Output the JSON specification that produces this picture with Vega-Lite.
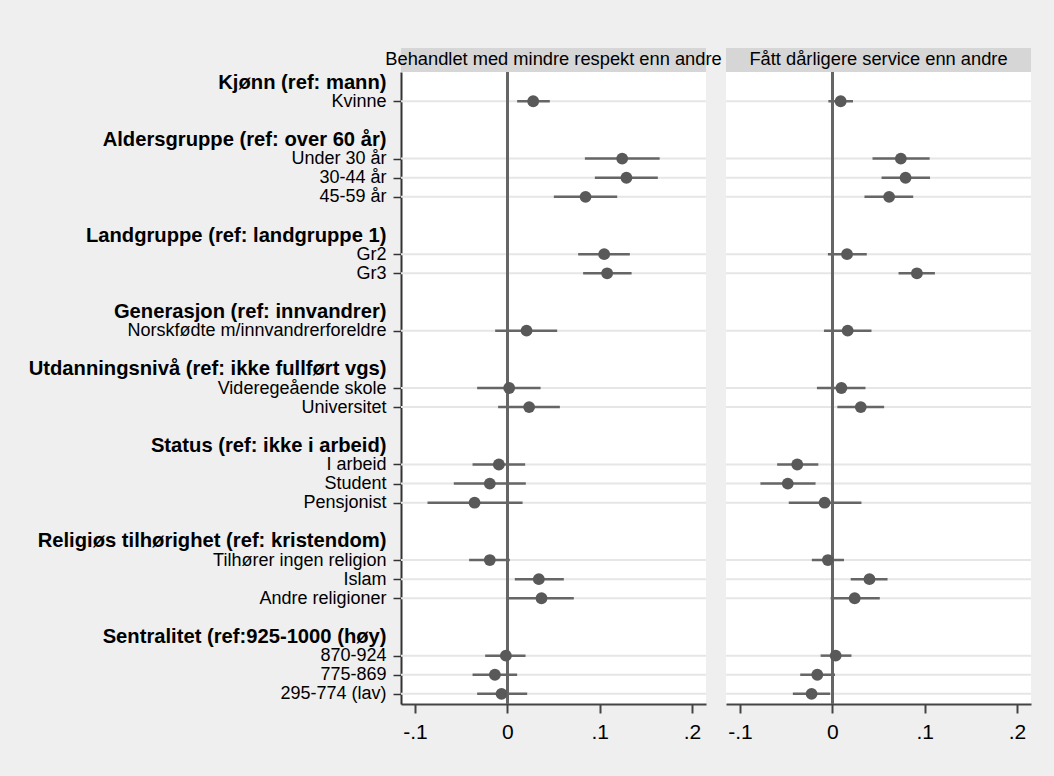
{
  "$schema": "https://vega.github.io/schema/vega-lite/v6.json",
  "background": "#efefef",
  "padding": {"left": 28, "top": 48, "right": 22, "bottom": 34},
  "spacing": 3,
  "config": {
    "font": "Liberation Sans",
    "view": {"stroke": null}
  },
  "datasets": {
    "coef": [
      {"panel": "Behandlet med mindre respekt enn andre", "label": "Kvinne", "b": 0.028, "lo": 0.0106, "hi": 0.046},
      {"panel": "Behandlet med mindre respekt enn andre", "label": "Under 30 år", "b": 0.1244, "lo": 0.084, "hi": 0.165},
      {"panel": "Behandlet med mindre respekt enn andre", "label": "30-44 år", "b": 0.129, "lo": 0.0948, "hi": 0.163},
      {"panel": "Behandlet med mindre respekt enn andre", "label": "45-59 år", "b": 0.0847, "lo": 0.0504, "hi": 0.119},
      {"panel": "Behandlet med mindre respekt enn andre", "label": "Gr2", "b": 0.1049, "lo": 0.0767, "hi": 0.1327},
      {"panel": "Behandlet med mindre respekt enn andre", "label": "Gr3", "b": 0.1081, "lo": 0.0821, "hi": 0.1346},
      {"panel": "Behandlet med mindre respekt enn andre", "label": "Norskfødte m/innvandrerforeldre", "b": 0.0208, "lo": -0.0132, "hi": 0.054},
      {"panel": "Behandlet med mindre respekt enn andre", "label": "Videregeående skole", "b": 0.002, "lo": -0.0327, "hi": 0.036},
      {"panel": "Behandlet med mindre respekt enn andre", "label": "Universitet", "b": 0.0236, "lo": -0.01, "hi": 0.0569},
      {"panel": "Behandlet med mindre respekt enn andre", "label": "I arbeid", "b": -0.0092, "lo": -0.0377, "hi": 0.0193},
      {"panel": "Behandlet med mindre respekt enn andre", "label": "Student", "b": -0.019, "lo": -0.058, "hi": 0.02},
      {"panel": "Behandlet med mindre respekt enn andre", "label": "Pensjonist", "b": -0.0355, "lo": -0.0865, "hi": 0.0165},
      {"panel": "Behandlet med mindre respekt enn andre", "label": "Tilhører ingen religion", "b": -0.019, "lo": -0.0414, "hi": 0.0027},
      {"panel": "Behandlet med mindre respekt enn andre", "label": "Islam", "b": 0.0341, "lo": 0.0081, "hi": 0.0612},
      {"panel": "Behandlet med mindre respekt enn andre", "label": "Andre religioner", "b": 0.037, "lo": 0.001, "hi": 0.072},
      {"panel": "Behandlet med mindre respekt enn andre", "label": "870-924", "b": -0.0016, "lo": -0.024, "hi": 0.0197},
      {"panel": "Behandlet med mindre respekt enn andre", "label": "775-869", "b": -0.0135, "lo": -0.0377, "hi": 0.0106},
      {"panel": "Behandlet med mindre respekt enn andre", "label": "295-774 (lav)", "b": -0.0063, "lo": -0.0327, "hi": 0.0215},
      {"panel": "Fått dårligere service enn andre", "label": "Kvinne", "b": 0.009, "lo": -0.0043, "hi": 0.0224},
      {"panel": "Fått dårligere service enn andre", "label": "Under 30 år", "b": 0.0742, "lo": 0.0435, "hi": 0.1054},
      {"panel": "Fått dårligere service enn andre", "label": "30-44 år", "b": 0.0793, "lo": 0.0533, "hi": 0.1058},
      {"panel": "Fått dårligere service enn andre", "label": "45-59 år", "b": 0.0615, "lo": 0.0348, "hi": 0.0876},
      {"panel": "Fått dårligere service enn andre", "label": "Gr2", "b": 0.0159, "lo": -0.0048, "hi": 0.0373},
      {"panel": "Fått dårligere service enn andre", "label": "Gr3", "b": 0.0916, "lo": 0.0717, "hi": 0.1111},
      {"panel": "Fått dårligere service enn andre", "label": "Norskfødte m/innvandrerforeldre", "b": 0.0166, "lo": -0.0091, "hi": 0.0424},
      {"panel": "Fått dårligere service enn andre", "label": "Videregeående skole", "b": 0.0098, "lo": -0.0167, "hi": 0.0359},
      {"panel": "Fått dårligere service enn andre", "label": "Universitet", "b": 0.0308, "lo": 0.0054, "hi": 0.0561},
      {"panel": "Fått dårligere service enn andre", "label": "I arbeid", "b": -0.038, "lo": -0.0598, "hi": -0.0152},
      {"panel": "Fått dårligere service enn andre", "label": "Student", "b": -0.0483, "lo": -0.0779, "hi": -0.0182},
      {"panel": "Fått dårligere service enn andre", "label": "Pensjonist", "b": -0.0084, "lo": -0.0472, "hi": 0.0315},
      {"panel": "Fått dårligere service enn andre", "label": "Tilhører ingen religion", "b": -0.0048, "lo": -0.0222, "hi": 0.0126},
      {"panel": "Fått dårligere service enn andre", "label": "Islam", "b": 0.0402, "lo": 0.0199, "hi": 0.0598},
      {"panel": "Fått dårligere service enn andre", "label": "Andre religioner", "b": 0.0242, "lo": -0.0018, "hi": 0.0514},
      {"panel": "Fått dårligere service enn andre", "label": "870-924", "b": 0.0036, "lo": -0.0127, "hi": 0.0207},
      {"panel": "Fått dårligere service enn andre", "label": "775-869", "b": -0.0163, "lo": -0.0348, "hi": 0.0029},
      {"panel": "Fått dårligere service enn andre", "label": "295-774 (lav)", "b": -0.0225, "lo": -0.0428, "hi": -0.0023}
    ]
  },
  "hconcat": [
    {
      "vconcat": [
        {
          "width": 305,
          "height": 24,
          "view": {"fill": "#d6d6d6", "stroke": null},
          "data": {"values": [{"t": "Behandlet med mindre respekt enn andre"}]},
          "mark": {"type": "text", "fontSize": 18.3, "color": "#000000", "baseline": "middle", "align": "center"},
          "encoding": {"text": {"field": "t"}}
        },
        {
          "width": 305,
          "height": 632,
          "view": {"fill": "#ffffff", "stroke": null},
          "data": {"name": "coef"},
          "transform": [{"filter": "datum.panel === 'Behandlet med mindre respekt enn andre'"}],
          "encoding": {
            "y": {
              "field": "label",
              "type": "nominal",
              "scale": {
                "type": "point",
                "padding": 0.53,
                "domain": ["Kjønn (ref: mann)", "Kvinne", "_b1", "Aldersgruppe (ref: over 60 år)", "Under 30 år", "30-44 år", "45-59 år", "_b2", "Landgruppe (ref: landgruppe 1)", "Gr2", "Gr3", "_b3", "Generasjon (ref: innvandrer)", "Norskfødte m/innvandrerforeldre", "_b4", "Utdanningsnivå (ref: ikke fullført vgs)", "Videregeående skole", "Universitet", "_b5", "Status (ref: ikke i arbeid)", "I arbeid", "Student", "Pensjonist", "_b6", "Religiøs tilhørighet (ref: kristendom)", "Tilhører ingen religion", "Islam", "Andre religioner", "_b7", "Sentralitet (ref:925-1000 (høy)", "870-924", "775-869", "295-774 (lav)"]
              },
              "axis": {
                "title": null,
                "grid": false,
                "domainColor": "#333333",
                "domainWidth": 2,
                "tickSize": 8,
                "tickWidth": 1.5,
                "tickColor": "#333333",
                "tickOpacity": {"condition": {"test": "indexof(datum.value, '(ref') >= 0 || indexof(datum.value, '_b') === 0", "value": 0}, "value": 1},
                "labelPadding": 7,
                "labelFontSize": {"condition": {"test": "indexof(datum.value, '(ref') >= 0", "value": 20.2}, "value": 18},
                "labelColor": "#000000",
                "labelLimit": 600,
                "labelFontWeight": {"condition": {"test": "indexof(datum.value, '(ref') >= 0", "value": "bold"}, "value": "normal"},
                "labelExpr": "indexof(datum.value, '_b') === 0 ? '' : datum.value"
              }
            }
          },
          "layer": [
            {
              "mark": {"type": "rule", "color": "#e6e6e6", "strokeWidth": 2},
              "encoding": {}
            },
            {
              "mark": {"type": "rule", "color": "#666666", "strokeWidth": 2},
              "encoding": {"x": {"datum": 0, "type": "quantitative"}, "y": null}
            },
            {
              "mark": {"type": "rule", "color": "#666666", "strokeWidth": 2.5},
              "encoding": {
                "x": {"field": "lo", "type": "quantitative"},
                "x2": {"field": "hi"}
              }
            },
            {
              "mark": {"type": "circle", "size": 140, "color": "#595959", "opacity": 1},
              "encoding": {
                "x": {
                  "field": "b",
                  "type": "quantitative",
                  "scale": {"domain": [-0.1152, 0.2152], "nice": false, "zero": false},
                  "axis": {
                    "title": null,
                    "grid": false,
                    "values": [-0.1, 0, 0.1, 0.2],
                    "labelExpr": "datum.value === 0 ? '0' : (datum.value < 0 ? '-' : '') + replace(format(abs(datum.value), '.1f'), '0.', '.')",
                    "domainColor": "#444444",
                    "domainWidth": 2,
                    "tickColor": "#444444",
                    "tickWidth": 2,
                    "tickSize": 9,
                    "labelFontSize": 21,
                    "labelColor": "#000000",
                    "labelPadding": 8
                  }
                }
              }
            }
          ]
        }
      ],
      "spacing": 0,
      "bounds": "flush"
    },
    {
      "vconcat": [
        {
          "width": 305,
          "height": 24,
          "view": {"fill": "#d6d6d6", "stroke": null},
          "data": {"values": [{"t": "Fått dårligere service enn andre"}]},
          "mark": {"type": "text", "fontSize": 18.3, "color": "#000000", "baseline": "middle", "align": "center"},
          "encoding": {"text": {"field": "t"}}
        },
        {
          "width": 305,
          "height": 632,
          "view": {"fill": "#ffffff", "stroke": null},
          "data": {"name": "coef"},
          "transform": [{"filter": "datum.panel === 'Fått dårligere service enn andre'"}],
          "encoding": {
            "y": {
              "field": "label",
              "type": "nominal",
              "scale": {
                "type": "point",
                "padding": 0.53,
                "domain": ["Kjønn (ref: mann)", "Kvinne", "_b1", "Aldersgruppe (ref: over 60 år)", "Under 30 år", "30-44 år", "45-59 år", "_b2", "Landgruppe (ref: landgruppe 1)", "Gr2", "Gr3", "_b3", "Generasjon (ref: innvandrer)", "Norskfødte m/innvandrerforeldre", "_b4", "Utdanningsnivå (ref: ikke fullført vgs)", "Videregeående skole", "Universitet", "_b5", "Status (ref: ikke i arbeid)", "I arbeid", "Student", "Pensjonist", "_b6", "Religiøs tilhørighet (ref: kristendom)", "Tilhører ingen religion", "Islam", "Andre religioner", "_b7", "Sentralitet (ref:925-1000 (høy)", "870-924", "775-869", "295-774 (lav)"]
              },
              "axis": null
            }
          },
          "layer": [
            {
              "mark": {"type": "rule", "color": "#e6e6e6", "strokeWidth": 2},
              "encoding": {}
            },
            {
              "mark": {"type": "rule", "color": "#666666", "strokeWidth": 2},
              "encoding": {"x": {"datum": 0, "type": "quantitative"}, "y": null}
            },
            {
              "mark": {"type": "rule", "color": "#666666", "strokeWidth": 2.5},
              "encoding": {
                "x": {"field": "lo", "type": "quantitative"},
                "x2": {"field": "hi"}
              }
            },
            {
              "mark": {"type": "circle", "size": 140, "color": "#595959", "opacity": 1},
              "encoding": {
                "x": {
                  "field": "b",
                  "type": "quantitative",
                  "scale": {"domain": [-0.1152, 0.2152], "nice": false, "zero": false},
                  "axis": {
                    "title": null,
                    "grid": false,
                    "values": [-0.1, 0, 0.1, 0.2],
                    "labelExpr": "datum.value === 0 ? '0' : (datum.value < 0 ? '-' : '') + replace(format(abs(datum.value), '.1f'), '0.', '.')",
                    "domainColor": "#444444",
                    "domainWidth": 2,
                    "tickColor": "#444444",
                    "tickWidth": 2,
                    "tickSize": 9,
                    "labelFontSize": 21,
                    "labelColor": "#000000",
                    "labelPadding": 8
                  }
                }
              }
            }
          ]
        }
      ],
      "spacing": 0,
      "bounds": "flush"
    }
  ]
}
